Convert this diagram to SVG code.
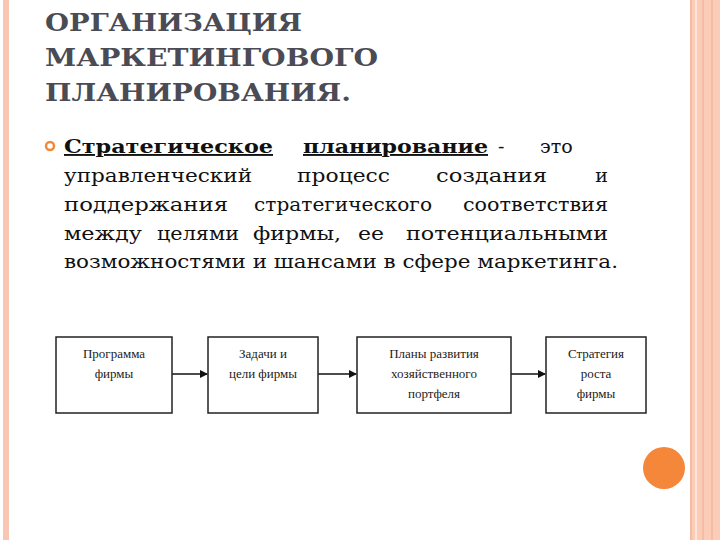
<svg xmlns="http://www.w3.org/2000/svg" width="720" height="540" viewBox="0 0 720 540">
<style>
.t{font-family:"DejaVu Serif","Liberation Serif",serif;font-weight:bold;font-size:25px;fill:#4a4b55}
.b{font-family:"DejaVu Serif","Liberation Serif",serif;font-size:19px;fill:#111}
.e{text-anchor:end}
.n{font-family:"Liberation Serif","DejaVu Serif",serif;font-size:13px;fill:#222;text-anchor:middle}
.box{fill:#fff;stroke:#222;stroke-width:1.5}
</style>
<defs><marker id="ah" markerWidth="8" markerHeight="8" refX="7" refY="4" orient="auto" markerUnits="userSpaceOnUse"><path d="M0,0 L8,4 L0,8 Z" fill="#111"/></marker></defs>
<rect width="720" height="540" fill="#fff"/>
<rect x="3" y="0" width="6" height="540" fill="#f8c6b2"/>
<rect x="690" y="0" width="30" height="540" fill="#fbcdb9"/>
<line x1="691" y1="0" x2="691" y2="540" stroke="#f1a98c" stroke-width="1"/>
<line x1="696" y1="0" x2="696" y2="540" stroke="#fde5da" stroke-width="2"/>
<line x1="703" y1="0" x2="703" y2="540" stroke="#f3ab8e" stroke-width="1"/>
<line x1="712" y1="0" x2="712" y2="540" stroke="#f3ab8e" stroke-width="1"/>
<circle cx="664" cy="468" r="21" fill="#f5873a"/>
<text class="t" x="45" y="31" textLength="257" lengthAdjust="spacingAndGlyphs">ОРГАНИЗАЦИЯ</text>
<text class="t" x="45" y="66" textLength="333" lengthAdjust="spacingAndGlyphs">МАРКЕТИНГОВОГО</text>
<text class="t" x="45" y="101" textLength="306" lengthAdjust="spacingAndGlyphs">ПЛАНИРОВАНИЯ.</text>
<circle cx="50" cy="146" r="4" fill="none" stroke="#f5873a" stroke-width="2.5"/>
<text class="b" x="64" y="153" font-weight="bold" text-decoration="underline" textLength="209" lengthAdjust="spacingAndGlyphs">Стратегическое </text>
<text class="b" x="303" y="153" font-weight="bold" text-decoration="underline" textLength="185" lengthAdjust="spacingAndGlyphs">планирование</text>
<text class="b" x="498" y="153">-</text>
<text class="b" x="540" y="153">это</text>
<text class="b" x="64" y="182" textLength="188" lengthAdjust="spacingAndGlyphs">управленческий</text>
<text class="b" x="297" y="182" textLength="93" lengthAdjust="spacingAndGlyphs">процесс</text>
<text class="b" x="436" y="182" textLength="111" lengthAdjust="spacingAndGlyphs">создания</text>
<text class="b e" x="608" y="182">и</text>
<text class="b" x="64" y="211" textLength="164" lengthAdjust="spacingAndGlyphs">поддержания</text>
<text class="b" x="254" y="211" textLength="178" lengthAdjust="spacingAndGlyphs">стратегического</text>
<text class="b" x="463" y="211" textLength="145" lengthAdjust="spacingAndGlyphs">соответствия</text>
<text class="b" x="64" y="240" textLength="78" lengthAdjust="spacingAndGlyphs">между</text>
<text class="b" x="157" y="240" textLength="82" lengthAdjust="spacingAndGlyphs">целями</text>
<text class="b" x="253" y="240" textLength="88" lengthAdjust="spacingAndGlyphs">фирмы,</text>
<text class="b" x="358" y="240" textLength="26" lengthAdjust="spacingAndGlyphs">ее</text>
<text class="b" x="406" y="240" textLength="202" lengthAdjust="spacingAndGlyphs">потенциальными</text>
<text class="b" x="64" y="268" textLength="554" lengthAdjust="spacingAndGlyphs">возможностями и шансами в сфере маркетинга.</text>
<g id="connectors">
<line x1="172" y1="374" x2="207" y2="374" stroke="#111" stroke-width="1.5" marker-end="url(#ah)"/>
<line x1="318" y1="374" x2="356" y2="374" stroke="#111" stroke-width="1.5" marker-end="url(#ah)"/>
<line x1="511" y1="374" x2="545" y2="374" stroke="#111" stroke-width="1.5" marker-end="url(#ah)"/>
</g>
<g id="n1"><rect class="box" x="56" y="337" width="116" height="76"/><text class="n" x="114" y="358">Программа</text><text class="n" x="114" y="378">фирмы</text></g>
<g id="n2"><rect class="box" x="208" y="337" width="110" height="76"/><text class="n" x="263" y="358">Задачи и</text><text class="n" x="263" y="378">цели фирмы</text></g>
<g id="n3"><rect class="box" x="357" y="337" width="154" height="76"/><text class="n" x="434" y="358">Планы развития</text><text class="n" x="434" y="378">хозяйственного</text><text class="n" x="434" y="398">портфеля</text></g>
<g id="n4"><rect class="box" x="546" y="337" width="100" height="76"/><text class="n" x="596" y="358">Стратегия</text><text class="n" x="596" y="378">роста</text><text class="n" x="596" y="398">фирмы</text></g>
</svg>
